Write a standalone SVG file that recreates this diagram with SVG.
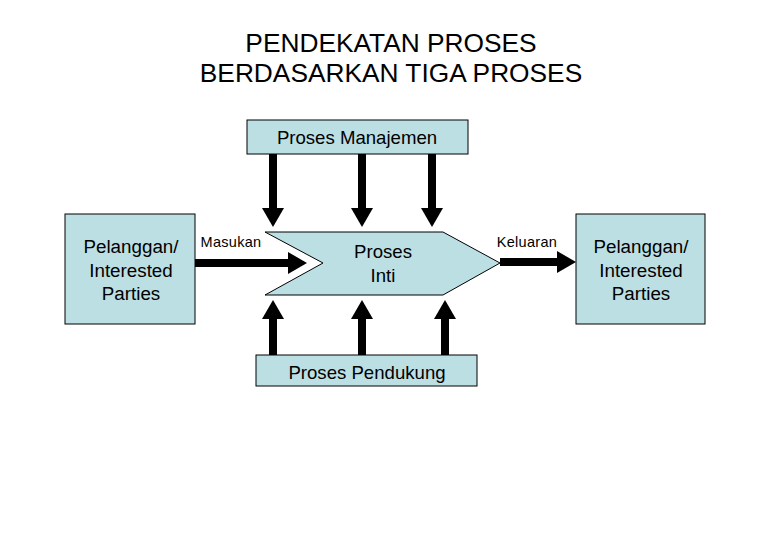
<svg xmlns="http://www.w3.org/2000/svg" width="780" height="540" viewBox="0 0 780 540">
<defs>
<style>
.box{fill:#bcdfe3;stroke:#000;stroke-width:1}
.t{font-family:"Liberation Sans",Arial,sans-serif;fill:#000;text-anchor:middle}
.c{stroke:#000;stroke-width:8;fill:none}
</style>
<marker id="ah" markerUnits="userSpaceOnUse" markerWidth="22" markerHeight="22" viewBox="0 0 19 22" refX="0" refY="11" orient="auto">
<path d="M0,0 L19,11 L0,22 Z" fill="#000"/>
</marker>
</defs>
<rect width="780" height="540" fill="#fff"/>
<g id="title">
<text class="t" x="391" y="52" font-size="26.3">PENDEKATAN PROSES</text>
<text class="t" x="391" y="82" font-size="26.3">BERDASARKAN TIGA PROSES</text>
</g>
<g id="manajemen">
<rect class="box" x="247" y="120" width="221" height="34"/>
<text class="t" x="357" y="144" font-size="18.6">Proses Manajemen</text>
</g>
<g id="inti">
<polygon class="box" points="265,232 443,232 500,263 443,295 265,295 323,263"/>
<text class="t" x="383" y="258" font-size="18.6">Proses</text>
<text class="t" x="383" y="282" font-size="18.6">Inti</text>
</g>
<g id="pendukung">
<rect class="box" x="256" y="355" width="221" height="31"/>
<text class="t" x="367" y="379" font-size="18.6">Proses Pendukung</text>
</g>
<g id="pelanggan-kiri">
<rect class="box" x="65" y="214" width="130" height="110"/>
<text class="t" x="131" y="253" font-size="18.8">Pelanggan/</text>
<text class="t" x="131" y="277" font-size="18.8">Interested</text>
<text class="t" x="131" y="300" font-size="18.8">Parties</text>
</g>
<g id="pelanggan-kanan">
<rect class="box" x="576" y="214" width="129" height="110"/>
<text class="t" x="641" y="253" font-size="18.8">Pelanggan/</text>
<text class="t" x="641" y="277" font-size="18.8">Interested</text>
<text class="t" x="641" y="300" font-size="18.8">Parties</text>
</g>
<g id="connectors">
<line class="c" x1="273" y1="154" x2="273" y2="208" marker-end="url(#ah)"/>
<line class="c" x1="362" y1="154" x2="362" y2="208" marker-end="url(#ah)"/>
<line class="c" x1="432" y1="154" x2="432" y2="208" marker-end="url(#ah)"/>
<line class="c" x1="273" y1="355" x2="273" y2="319" marker-end="url(#ah)"/>
<line class="c" x1="362" y1="355" x2="362" y2="319" marker-end="url(#ah)"/>
<line class="c" x1="445" y1="355" x2="445" y2="319" marker-end="url(#ah)"/>
<line class="c" x1="195" y1="263" x2="288" y2="263" marker-end="url(#ah)"/>
<line class="c" x1="500" y1="262" x2="557" y2="262" marker-end="url(#ah)"/>
<text class="t" x="231" y="247" font-size="14.5" letter-spacing="0.3">Masukan</text>
<text class="t" x="527" y="247" font-size="14.5" letter-spacing="0.3">Keluaran</text>
</g>
</svg>
